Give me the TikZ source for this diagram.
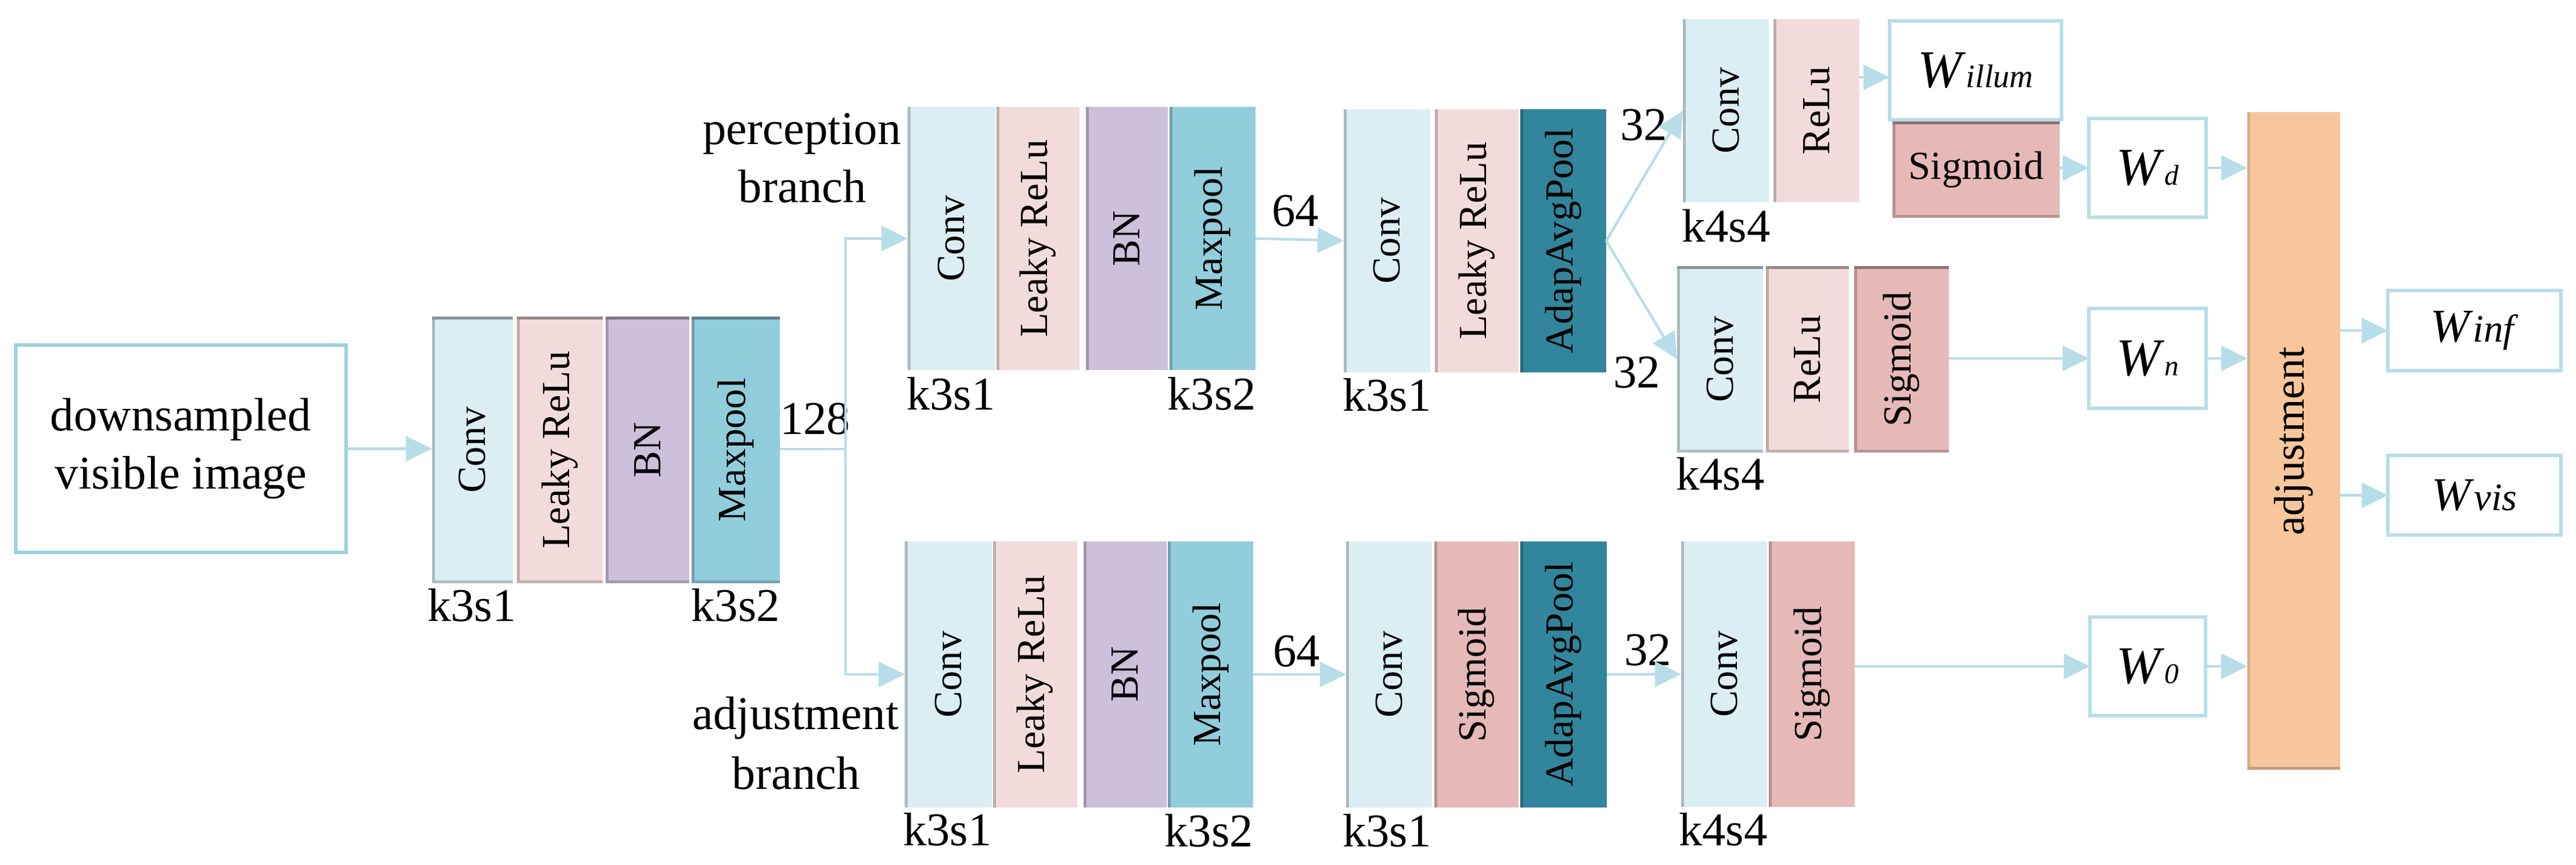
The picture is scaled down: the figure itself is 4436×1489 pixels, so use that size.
\documentclass[tikz,border=0pt]{standalone}
\usepackage{fontspec}
\usepackage{graphicx}
\setmainfont{Liberation Serif}
\usetikzlibrary{arrows.meta,calc}
\definecolor{cconv}{RGB}{218,238,243}
\definecolor{crelu}{RGB}{242,220,219}
\definecolor{cbn}{RGB}{204,192,218}
\definecolor{cmax}{RGB}{146,205,220}
\definecolor{cadap}{RGB}{49,133,156}
\definecolor{csig}{RGB}{230,185,184}
\definecolor{cadj}{RGB}{248,198,156}
\definecolor{clink}{RGB}{183,221,232}
\definecolor{cinbox}{RGB}{155,209,222}
\newcommand\labfont{\fontsize{23}{28.5}\selectfont}
\newcommand\rotfont{\fontsize{19.5}{23}\selectfont}
\newcommand\adjfont{\fontsize{21}{25}\selectfont}
\newcommand\wbig{\fontsize{26}{30}\selectfont}
\newcommand\wsmall{\fontsize{14}{16}\selectfont}
\newcommand\wmid{\fontsize{23}{27}\selectfont}
\newcommand\wmidsub{\fontsize{19}{22}\selectfont}
\newcommand\wil{\fontsize{16}{18}\selectfont}
\newcommand\rt[1]{\rotatebox{90}{\rotfont #1}}
\newcommand\mkblk[7]{\node[#6, minimum width={(#4-#2)*0.01cm}, minimum height={(#5-#3)*0.01cm}] (#1) at ({(#2+#4)/2},{(#3+#5)/2}) {#7};}
\tikzset{
  blk/.style={fill=#1, draw=none, inner sep=0pt, outer sep=0pt,
    path picture={\fill[#1!78!black] (path picture bounding box.north west) rectangle ([xshift=0.05cm]path picture bounding box.south west);}},
  blkt/.style={fill=#1, draw=none, inner sep=0pt, outer sep=0pt,
    path picture={\fill[#1!78!black] (path picture bounding box.north west) rectangle ([xshift=0.05cm]path picture bounding box.south west);
      \fill[#1!62!black] (path picture bounding box.north west) rectangle ([yshift=-0.05cm]path picture bounding box.north east);
      \fill[#1!80!black] (path picture bounding box.south west) rectangle ([yshift=0.05cm]path picture bounding box.south east);}},
  blkb/.style={fill=#1, draw=none, inner sep=0pt, outer sep=0pt,
    path picture={\fill[#1!88!black] (path picture bounding box.north west) rectangle ([xshift=0.05cm]path picture bounding box.south west);
      \fill[#1!80!black] (path picture bounding box.south west) rectangle ([yshift=0.05cm]path picture bounding box.south east);}},
  inbox/.style={draw=cinbox, line width=0.065cm, fill=white, inner sep=0pt, outer sep=0pt, align=center, font=\labfont},
  wbox/.style={draw=clink, line width=0.065cm, fill=white, inner sep=0pt, outer sep=0pt},
  arr/.style={draw=clink, line width=0.045cm, -{Triangle[length=0.45cm,width=0.43cm]}},
  ln/.style={draw=clink, line width=0.045cm},
  lab/.style={font=\labfont, inner sep=0pt, outer sep=0pt},
}
\begin{document}
\begin{tikzpicture}[x=0.01cm,y=-0.01cm]
\useasboundingbox (0,0) rectangle (4436,1489);
% input
\mkblk{in}{27}{594}{596}{951}{inbox}{downsampled\\visible image}
% first stack
\mkblk{c1}{744}{545}{883}{1004}{blkt=cconv}{\rt{Conv}}
\mkblk{r1}{890}{545}{1038}{1004}{blkt=crelu}{\rt{Leaky ReLu}}
\mkblk{b1}{1043}{545}{1187}{1004}{blkt=cbn}{\rt{BN}}
\mkblk{m1}{1191}{545}{1343}{1004}{blkt=cmax}{\rt{Maxpool}}
% perception branch
\mkblk{pc1}{1563}{184}{1714}{637}{blk=cconv}{\rt{Conv}}
\mkblk{pr1}{1716}{184}{1859}{637}{blk=crelu}{\rt{Leaky ReLu}}
\mkblk{pb1}{1870}{184}{2011}{637}{blk=cbn}{\rt{BN}}
\mkblk{pm1}{2014}{184}{2162}{637}{blk=cmax}{\rt{Maxpool}}
\mkblk{pc2}{2314}{188}{2463}{641}{blk=cconv}{\rt{Conv}}
\mkblk{pr2}{2471}{188}{2615}{641}{blk=crelu}{\rt{Leaky ReLu}}
\mkblk{pa}{2618}{188}{2766}{641}{blk=cadap}{\rt{AdapAvgPool}}
% adjustment branch
\mkblk{ac1}{1558}{932}{1708}{1390}{blk=cconv}{\rt{Conv}}
\mkblk{ar1}{1710}{932}{1855}{1390}{blk=crelu}{\rt{Leaky ReLu}}
\mkblk{ab1}{1866}{932}{2009}{1390}{blk=cbn}{\rt{BN}}
\mkblk{am1}{2011}{932}{2158}{1390}{blk=cmax}{\rt{Maxpool}}
\mkblk{ac2}{2318}{932}{2466}{1390}{blk=cconv}{\rt{Conv}}
\mkblk{as2}{2470}{932}{2615}{1390}{blk=csig}{\rt{Sigmoid}}
\mkblk{aa}{2618}{932}{2767}{1390}{blk=cadap}{\rt{AdapAvgPool}}
\mkblk{ac3}{2895}{932}{3043}{1389}{blk=cconv}{\rt{Conv}}
\mkblk{as3}{3046}{932}{3194}{1389}{blk=csig}{\rt{Sigmoid}}
% top small stack
\mkblk{tc}{2898}{33}{3046}{348}{blk=cconv}{\rt{Conv}}
\mkblk{tr}{3054}{33}{3202}{348}{blk=crelu}{\rt{ReLu}}
% middle stack
\mkblk{mc}{2888}{458}{3036}{779}{blkt=cconv}{\rt{Conv}}
\mkblk{mr}{3041}{458}{3184}{779}{blkt=crelu}{\rt{ReLu}}
\mkblk{ms}{3193}{458}{3356}{779}{blkt=csig}{\rt{Sigmoid}}
% right part
\mkblk{wil}{3254}{36}{3550}{206}{wbox}{\wbig\textit{W}\wil\textit{illum}}
\mkblk{sg}{3259}{209}{3547}{375}{blkt=csig}{\rotfont Sigmoid}
\mkblk{wd}{3597}{204}{3799}{374}{wbox}{\wbig\textit{W}\wsmall\textit{d}}
\mkblk{wn}{3597}{531}{3799}{703}{wbox}{\wbig\textit{W}\wsmall\textit{n}}
\mkblk{wz}{3599}{1062}{3798}{1232}{wbox}{\wbig\textit{W}\wsmall\textit{0}}
\mkblk{adj}{3870}{193}{4030}{1325}{blkb=cadj}{\rotatebox{90}{\adjfont adjustment}}
\mkblk{winf}{4112}{500}{4410}{638}{wbox}{\wmid\textit{W}\wmidsub\textit{inf}}
\mkblk{wvis}{4112}{784}{4410}{921}{wbox}{\wmid\textit{W}\wmidsub\textit{vis}}
% labels
\node[lab, anchor=base west] (l1) at (736,1069) {k3s1};
\node[lab, anchor=base east] (l2) at (1343,1069) {k3s2};
\node[lab, anchor=base west] (l3) at (1561,706) {k3s1};
\node[lab, anchor=base east] (l4) at (2163,706) {k3s2};
\node[lab, anchor=base west] (l5) at (2312,708) {k3s1};
\node[lab, anchor=base west] (l6) at (1555,1455) {k3s1};
\node[lab, anchor=base east] (l7) at (2158,1457) {k3s2};
\node[lab, anchor=base west] (l8) at (2312,1457) {k3s1};
\node[lab, anchor=base west] (l9) at (2891,1455) {k4s4};
\node[lab, anchor=base west] (l10) at (2896,417) {k4s4};
\node[lab, anchor=base west] (l11) at (2886,844) {k4s4};
\node[lab, anchor=base west] (n128) at (1343,748) {128};
\node[lab, anchor=base west] (n64a) at (2190,390) {64};
\node[lab, anchor=base west] (n64b) at (2192,1147) {64};
\node[lab, anchor=base west] (n32a) at (2790,242) {32};
\node[lab, anchor=base west] (n32b) at (2778,668) {32};
\node[lab, anchor=base west] (n32c) at (2797,1146) {32};
\node[lab, anchor=base] (pb1t) at (1381,249) {perception};
\node[lab, anchor=base] (pb2t) at (1382,349) {branch};
\node[lab, anchor=base] (ab1t) at (1370,1255) {adjustment};
\node[lab, anchor=base] (ab2t) at (1371,1358) {branch};
% connectors
\coordinate (br) at (1456,773);
\coordinate (wilin) at ($(wil.west)+(0,12)$);
\draw[arr] (in.east) -- (in.east -| c1.west);
\draw[ln] (m1.east |- br) -- (br);
\draw[arr] (br) |- (pc1.west);
\draw[arr] (br) |- (ac1.west);
\draw[arr] (pm1.east) -- (pc2.west);
\draw[arr] (am1.east) -- (ac2.west);
\draw[arr] (aa.east) -- (ac3.west);
\draw[arr] (pa.east) -- (tc.west);
\draw[arr] (pa.east) -- (mc.west);
\draw[arr] (tr.east |- wilin) -- (wilin);
\draw[arr] (sg.east |- wd.west) -- (wd.west);
\draw[arr] (wd.east) -- (wd.east -| adj.west);
\draw[arr] (ms.east |- wn.west) -- (wn.west);
\draw[arr] (wn.east) -- (wn.east -| adj.west);
\draw[arr] (as3.east |- wz.west) -- (wz.west);
\draw[arr] (wz.east) -- (wz.east -| adj.west);
\draw[arr] (adj.east |- winf.west) -- (winf.west);
\draw[arr] (adj.east |- wvis.west) -- (wvis.west);
\end{tikzpicture}
\end{document}
